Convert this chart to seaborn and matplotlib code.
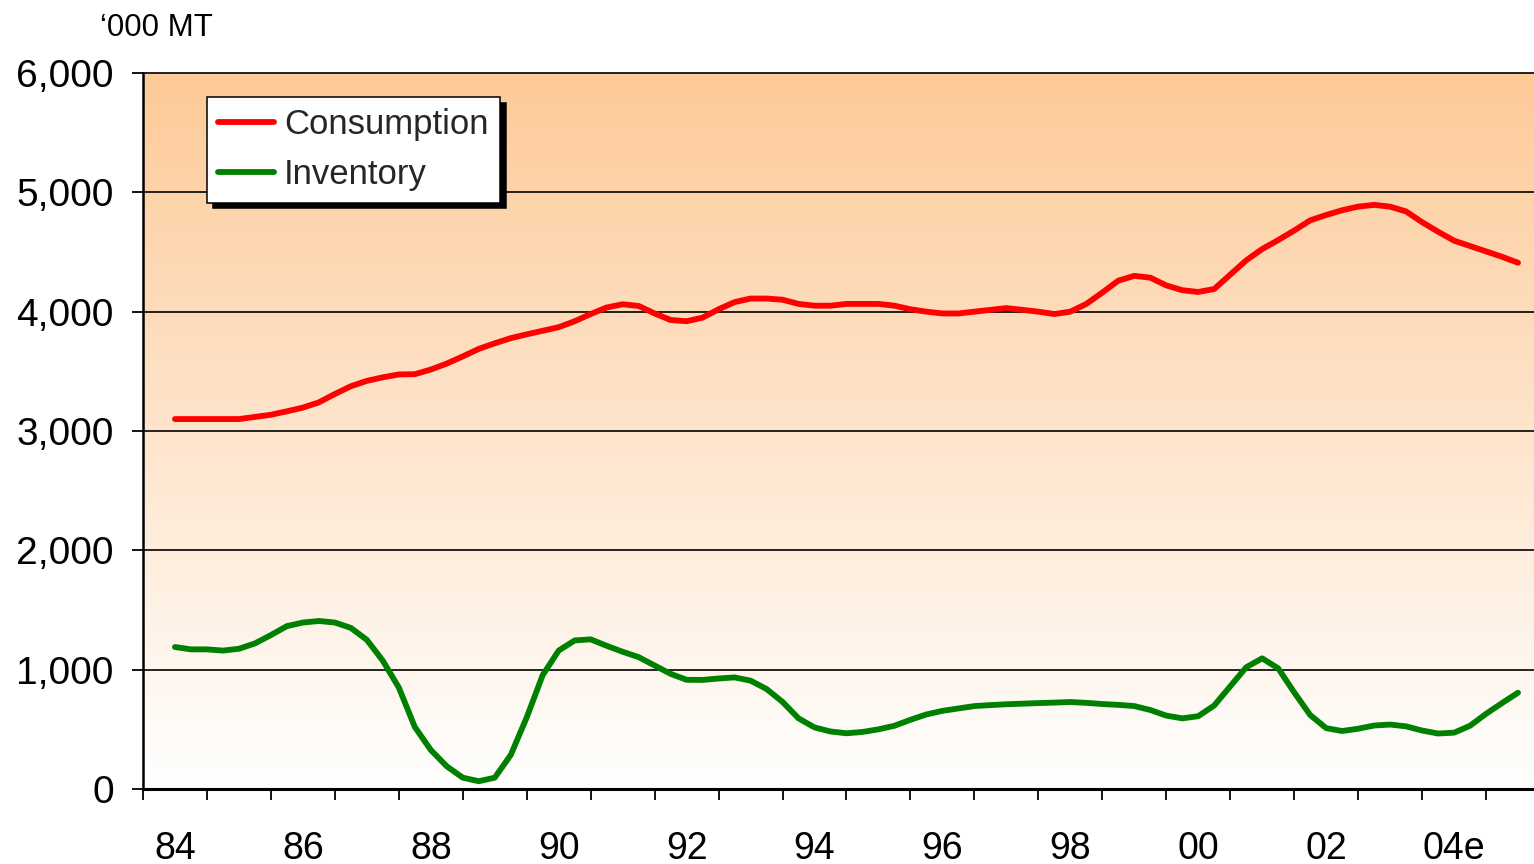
import numpy as np
import pandas as pd
import matplotlib
matplotlib.use("Agg")
import matplotlib.pyplot as plt
import seaborn as sns
from matplotlib.ticker import FixedLocator, FuncFormatter

# Quarterly series, 1984 Q1 through 2005 Q1 ('000 MT)
consumption = [
    3100, 3100, 3100, 3100, 3100, 3118, 3136, 3165,   # 84-85
    3196, 3240, 3310, 3375, 3420, 3450, 3474, 3476,   # 86-87
    3515, 3565, 3625, 3688, 3735, 3778, 3810, 3840,   # 88-89
    3870, 3920, 3980, 4035, 4062, 4048, 3985, 3930,   # 90-91
    3920, 3950, 4020, 4080, 4110, 4110, 4100, 4065,   # 92-93
    4050, 4050, 4065, 4065, 4065, 4050, 4020, 4000,   # 94-95
    3985, 3985, 4000, 4015, 4030, 4015, 4000, 3980,   # 96-97
    4000, 4065, 4160, 4260, 4300, 4285, 4220, 4180,   # 98-99
    4165, 4190, 4310, 4430, 4525, 4600, 4680, 4765,   # 00-01
    4810, 4850, 4880, 4895, 4880, 4840, 4750, 4670,   # 02-03
    4595, 4550, 4505, 4460, 4410,                     # 04-05
]
inventory = [
    1190, 1170, 1170, 1160, 1175, 1220, 1290, 1365,   # 84-85
    1395, 1408, 1395, 1350, 1250, 1075, 850, 520,     # 86-87
    327, 190, 95, 65, 95, 285, 600, 955,              # 88-89
    1160, 1245, 1254, 1200, 1150, 1105, 1035, 965,    # 90-91
    915, 914, 926, 935, 908, 838, 730, 592,           # 92-93
    516, 482, 467, 478, 500, 530, 580, 625,           # 94-95
    655, 675, 695, 703, 710, 715, 720, 724,           # 96-97
    729, 722, 712, 705, 695, 662, 615, 592,           # 98-99
    610, 700, 860, 1020, 1095, 1011, 810, 620,        # 00-01
    510, 486, 505, 532, 540, 525, 490, 465,           # 02-03
    472, 530, 630, 720, 807,                          # 04-05
]
series_names = ["Consumption", "Inventory"]
series_colors = {"Consumption": "#FF0000", "Inventory": "#008000"}
year_labels = ["84", "86", "88", "90", "92", "94", "96", "98", "00", "02", "04e"]
y_ticks = [0, 1000, 2000, 3000, 4000, 5000, 6000]
unit_label = "\u2018000 MT"

# years elapsed since 1984, one step per quarter
t = np.arange(len(consumption)) * 0.25
df = pd.DataFrame({
    "t": np.concatenate([t, t]),
    "value": consumption + inventory,
    "series": ["Consumption"] * len(consumption) + ["Inventory"] * len(inventory),
})

sns.set_style("ticks")
plt.rcParams["font.family"] = ["Liberation Sans", "DejaVu Sans"]

fig = plt.figure(figsize=(15.34, 8.64), dpi=100)
ax = fig.add_axes([143 / 1534, 1 - 789 / 864, 1 - 143 / 1534, (789 - 73) / 864])

x_min, x_max = -0.5, 21.25
y_min, y_max = 0, 6000

# peach-to-white vertical gradient behind the plot
g = np.linspace(0, 1, 256).reshape(-1, 1, 1)
top_col = np.array([253, 202, 152]) / 255.0
bot_col = np.array([255, 255, 255]) / 255.0
img = bot_col * (1 - g) + top_col * g
ax.imshow(img, extent=(x_min, x_max, y_min, y_max), origin="lower",
          aspect="auto", zorder=0, interpolation="bilinear")

sns.lineplot(data=df, x="t", y="value", hue="series", hue_order=series_names,
             palette=series_colors, linewidth=4.2, legend=False, ax=ax,
             zorder=3)
for ln in ax.get_lines():
    ln.set_solid_capstyle("round")
    ln.set_solid_joinstyle("round")

ax.set_xlim(x_min, x_max)
ax.set_ylim(y_min, y_max)
ax.set_xlabel("")
ax.set_ylabel("")

# horizontal gridlines
ax.set_axisbelow(False)
for v in y_ticks[1:-1]:
    ax.axhline(v, color="black", lw=1.2, zorder=1)

# x axis: boundary ticks every year, labels every second year
ax.xaxis.set_major_locator(FixedLocator(np.arange(0, 2 * len(year_labels), 2)))
ax.set_xticklabels(year_labels)
ax.xaxis.set_minor_locator(FixedLocator(np.arange(-0.5, 21.0, 1.0)))
ax.tick_params(axis="x", which="major", length=0, pad=30, labelsize=27,
               labelcolor="black")
ax.tick_params(axis="x", which="minor", length=8, width=1.3, color="black",
               direction="out")

ax.set_yticks(y_ticks)
ax.yaxis.set_major_formatter(FuncFormatter(lambda v, p: f"{v:,.0f}"))
ax.tick_params(axis="y", which="major", length=8, width=1.3, color="black",
               pad=13, labelsize=28, labelcolor="black", direction="out")

for side in ["left", "bottom", "top"]:
    ax.spines[side].set_visible(True)
    ax.spines[side].set_color("black")
ax.spines["left"].set_linewidth(1.8)
ax.spines["bottom"].set_linewidth(2.2)
ax.spines["top"].set_linewidth(1.2)
ax.spines["right"].set_visible(False)

lines = ax.get_lines()[:2]
leg = ax.legend(lines, series_names, loc="upper left",
                bbox_to_anchor=(0.046, 0.9665), borderaxespad=0,
                fontsize=25, handlelength=1.6, handletextpad=0.3,
                borderpad=0.32, labelspacing=0.5, fancybox=False,
                framealpha=1, edgecolor="black",
                shadow={"ox": 4.2, "oy": -4.2, "color": "black", "alpha": 1})
leg.get_frame().set_linewidth(1.1)
leg.set_zorder(5)

fig.text(100 / 1534, 1 - 36 / 864, unit_label, fontsize=22.5, color="black",
         ha="left", va="baseline")

fig.savefig("out.png", dpi=100)
